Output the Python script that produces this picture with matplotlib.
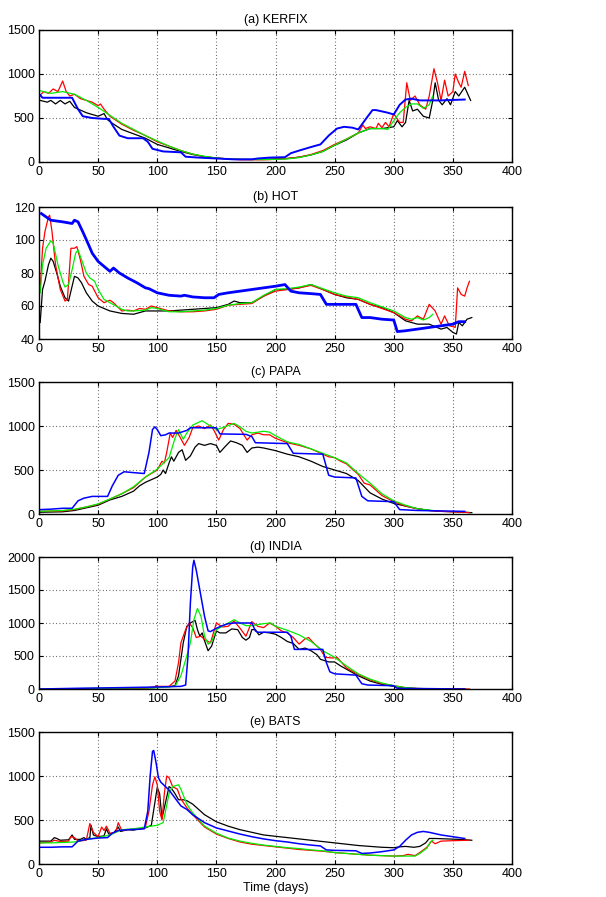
import numpy as np
import matplotlib
matplotlib.use("Agg")
import matplotlib.pyplot as plt

plt.rcParams['font.family'] = ['Liberation Sans', 'DejaVu Sans']

titles = ["(a) KERFIX", "(b) HOT", "(c) PAPA", "(d) INDIA", "(e) BATS"]
ylims = [(0, 1500), (40, 120), (0, 1500), (0, 2000), (0, 1500)]
yticks = [[0, 500, 1000, 1500], [40, 60, 80, 100, 120], [0, 500, 1000, 1500],
          [0, 500, 1000, 1500, 2000], [0, 500, 1000, 1500]]
xticks = [0, 50, 100, 150, 200, 250, 300, 350, 400]
xlabel = "Time (days)"

# ---------------- (a) KERFIX ----------------
kerfix_black_day = [1, 4, 7, 10, 14, 18, 22, 26, 30, 35, 40, 45, 50, 55, 58, 62, 70, 80, 90, 100, 110, 120, 130, 140, 150, 160, 170, 180, 190, 200, 210, 220, 230, 240, 250, 260, 270, 280, 290, 295, 300, 303, 307, 310, 313, 316, 320, 325, 330, 333, 335, 338, 341, 345, 348, 352, 355, 360, 365]
kerfix_black_val = [700, 690, 680, 700, 660, 700, 660, 690, 620, 590, 560, 540, 520, 550, 480, 440, 370, 320, 270, 200, 160, 120, 85, 60, 45, 35, 30, 30, 30, 35, 40, 55, 80, 120, 190, 250, 330, 380, 380, 390, 400, 470, 400, 450, 700, 580, 600, 520, 500, 700, 900, 700, 650, 720, 650, 800, 750, 850, 700]
kerfix_red_day = [1, 4, 8, 12, 16, 20, 23, 26, 30, 35, 40, 45, 50, 52, 55, 60, 70, 80, 90, 100, 110, 120, 130, 140, 150, 160, 170, 180, 190, 200, 210, 220, 230, 240, 250, 260, 270, 274, 276, 280, 285, 287, 290, 293, 296, 300, 305, 308, 311, 314, 318, 322, 327, 330, 334, 337, 340, 343, 346, 350, 352, 355, 357, 360, 363]
kerfix_red_val = [760, 800, 780, 830, 800, 920, 800, 750, 770, 720, 700, 680, 640, 660, 600, 520, 430, 360, 300, 230, 180, 130, 90, 60, 45, 35, 25, 25, 25, 30, 40, 55, 85, 130, 200, 260, 330, 420, 380, 400, 380, 440, 390, 450, 400, 550, 450, 450, 900, 700, 750, 650, 600, 750, 1060, 900, 700, 930, 750, 800, 1000, 900, 850, 1030, 870]
kerfix_green_day = [1, 10, 20, 30, 40, 50, 60, 70, 80, 90, 100, 110, 120, 130, 140, 150, 160, 170, 180, 190, 200, 210, 220, 230, 240, 250, 260, 270, 280, 290, 295, 300, 305, 310, 315, 320, 325, 330, 333]
kerfix_green_val = [810, 780, 800, 770, 700, 620, 530, 440, 370, 300, 240, 180, 130, 90, 65, 45, 35, 30, 28, 28, 30, 35, 50, 80, 120, 190, 260, 330, 380, 380, 370, 470, 560, 620, 660, 660, 610, 650, 750]
kerfix_blue_day = [1, 3, 10, 20, 28, 33, 37, 45, 55, 59, 63, 68, 75, 88, 92, 96, 105, 120, 124, 135, 150, 165, 180, 185, 195, 208, 213, 220, 230, 238, 245, 252, 258, 265, 270, 277, 282, 285, 295, 300, 305, 310, 315, 322, 340, 360]
kerfix_blue_val = [760, 730, 730, 730, 730, 600, 520, 500, 490, 490, 400, 300, 270, 270, 230, 150, 120, 110, 60, 50, 40, 30, 30, 40, 50, 55, 100, 130, 170, 200, 300, 380, 400, 390, 370, 500, 590, 590, 560, 540, 650, 710, 720, 700, 700, 710]

# ---------------- (b) HOT ----------------
hot_black_day = [1, 3, 5, 8, 10, 12, 15, 18, 22, 25, 28, 30, 33, 36, 40, 45, 50, 60, 70, 80, 85, 90, 100, 110, 120, 130, 140, 150, 155, 160, 165, 170, 180, 190, 200, 210, 220, 230, 240, 250, 260, 270, 280, 290, 300, 310, 320, 330, 340, 345, 350, 353, 355, 358, 362, 366]
hot_black_val = [50, 70, 75, 85, 89, 87, 80, 72, 65, 63, 72, 78, 77, 74, 68, 63, 60, 57, 55.5, 55, 56, 57, 57, 57, 57.5, 58, 58.5, 59, 60, 61, 63, 62, 62, 66, 70, 70, 71, 73, 70, 67, 65, 64, 61, 59, 56, 51, 49, 49, 46, 47, 44, 43, 50, 48, 52, 53]
hot_red_day = [1, 3, 5, 8, 9, 11, 14, 18, 22, 24, 27, 30, 32, 35, 38, 42, 45, 50, 55, 60, 63, 70, 75, 80, 85, 90, 95, 100, 110, 120, 130, 140, 150, 160, 170, 180, 190, 200, 210, 220, 230, 240, 250, 260, 270, 280, 290, 300, 310, 315, 320, 325, 330, 335, 340, 343, 347, 350, 352, 354, 357, 360, 362, 364]
hot_red_val = [70, 95, 105, 114, 115, 105, 85, 70, 63, 64, 95, 95, 96, 88, 78, 73, 72, 65, 62, 63.5, 62, 57, 57.5, 57, 58.5, 58, 60, 59, 57, 56.5, 56.5, 57, 58, 60.5, 61, 61.5, 66, 69, 70, 71, 72.5, 70, 67, 65.5, 64, 61, 58.5, 56, 52, 51, 54, 52, 61, 57, 49, 54, 48, 47.5, 47, 71, 67, 66, 71, 75]
hot_green_day = [1, 3, 6, 10, 12, 16, 20, 22, 25, 28, 31, 33, 36, 40, 43, 47, 50, 55, 60, 65, 70, 75, 80, 90, 95, 100, 110, 120, 130, 140, 150, 160, 170, 180, 190, 200, 210, 220, 230, 240, 250, 260, 270, 280, 290, 300, 310, 315, 320, 325, 330, 333]
hot_green_val = [68, 85, 95, 99.5, 98, 85, 75, 71.5, 73, 82, 92, 94, 88, 80, 77, 75, 70, 64, 62, 60, 58, 57, 57, 57.5, 59, 58.5, 56.5, 56.5, 57, 57.5, 58.5, 60.5, 61.5, 62, 66.5, 70, 70.5, 71.5, 73, 70.5, 68, 66, 65, 62, 59.5, 57, 53, 52, 53, 51.5, 53, 55]
hot_blue_day = [2, 10, 20, 28, 30, 33, 37, 42, 45, 50, 55, 60, 63, 68, 75, 83, 90, 93, 100, 110, 120, 123, 130, 140, 148, 152, 160, 170, 180, 190, 200, 208, 213, 220, 230, 238, 243, 255, 268, 273, 280, 290, 300, 303, 310, 320, 330, 340, 350, 355, 360]
hot_blue_val = [116, 112, 111, 110, 112, 111, 105, 97, 92, 87, 84, 81, 83, 80, 77, 74, 71, 70.5, 68, 66.5, 66, 66.5, 65.5, 65, 65, 67, 68, 69, 70, 71, 72, 73, 69, 68, 67.5, 67, 61, 61, 61, 53, 53, 52, 51.5, 44.5, 45, 46, 47, 48, 49, 50.5, 50.5]

# ---------------- (c) PAPA ----------------
papa_black_day = [1, 20, 30, 40, 50, 60, 70, 80, 85, 90, 100, 103, 105, 107, 110, 112, 114, 118, 121, 124, 128, 132, 135, 140, 145, 150, 153, 157, 162, 167, 172, 176, 180, 185, 190, 200, 210, 220, 230, 240, 250, 260, 270, 280, 290, 300, 310, 320, 330, 340, 350, 360, 366]
papa_black_val = [20, 25, 40, 70, 100, 160, 200, 260, 320, 360, 420, 450, 500, 460, 580, 650, 600, 700, 730, 610, 660, 760, 800, 780, 800, 780, 700, 760, 830, 810, 780, 700, 750, 760, 750, 720, 680, 650, 600, 540, 500, 460, 380, 240, 170, 120, 90, 60, 40, 30, 25, 20, 15]
papa_red_day = [1, 20, 30, 40, 50, 60, 70, 80, 90, 100, 104, 106, 108, 111, 113, 116, 119, 123, 127, 130, 135, 140, 145, 148, 152, 156, 160, 165, 170, 176, 180, 185, 190, 195, 200, 210, 220, 230, 240, 245, 250, 255, 260, 270, 275, 280, 290, 300, 310, 320, 330, 340, 350, 360, 364]
papa_red_val = [30, 35, 50, 80, 110, 170, 230, 300, 420, 500, 600, 580, 700, 920, 870, 950, 880, 780, 870, 980, 1000, 970, 1010, 950, 840, 960, 1030, 1020, 970, 840, 900, 920, 900, 900, 860, 810, 780, 740, 680, 650, 640, 600, 570, 450, 350, 330, 210, 140, 90, 60, 40, 30, 25, 20, 15]
papa_green_day = [1, 20, 30, 40, 50, 60, 70, 80, 90, 100, 110, 115, 118, 122, 125, 130, 138, 145, 150, 155, 165, 170, 175, 180, 190, 195, 200, 210, 220, 230, 240, 250, 260, 270, 280, 290, 300, 310, 320, 330, 333]
papa_green_val = [30, 40, 55, 80, 115, 170, 230, 310, 420, 510, 640, 860, 960, 850, 920, 1010, 1060, 1000, 960, 980, 1030, 990, 940, 920, 940, 930, 890, 820, 790, 740, 690, 640, 580, 460, 350, 230, 150, 100, 60, 45, 40]
papa_blue_day = [1, 10, 20, 28, 33, 38, 45, 58, 62, 67, 72, 80, 89, 93, 96, 98, 100, 103, 107, 110, 118, 125, 128, 150, 153, 175, 180, 183, 210, 215, 240, 245, 250, 268, 273, 278, 300, 305, 320, 340, 360]
papa_blue_val = [50, 55, 65, 65, 150, 180, 200, 200, 320, 440, 480, 470, 460, 700, 960, 990, 960, 890, 900, 920, 920, 950, 980, 980, 910, 905, 880, 810, 800, 690, 680, 440, 420, 410, 200, 150, 140, 50, 40, 35, 30]

# ---------------- (d) INDIA ----------------
india_black_day = [1, 50, 90, 98, 99, 100, 110, 115, 118, 120, 122, 125, 128, 130, 132, 134, 136, 138, 140, 143, 146, 150, 153, 158, 163, 168, 172, 175, 178, 180, 183, 186, 190, 195, 200, 205, 210, 215, 220, 225, 230, 235, 238, 245, 250, 255, 260, 270, 280, 290, 300, 310, 320, 360]
india_black_val = [0, 5, 15, 20, 50, 30, 35, 50, 200, 450, 700, 950, 1000, 1020, 1040, 900, 800, 850, 730, 580, 650, 880, 850, 850, 910, 900, 780, 740, 780, 900, 900, 820, 860, 850, 830, 780, 720, 690, 600, 620, 580, 520, 450, 410, 410, 350, 300, 200, 120, 70, 40, 15, 5, 0]
india_red_day = [1, 90, 100, 110, 115, 118, 120, 124, 127, 130, 133, 137, 140, 145, 150, 155, 160, 165, 170, 175, 180, 185, 190, 195, 200, 205, 210, 215, 220, 225, 228, 232, 238, 242, 248, 252, 260, 270, 280, 290, 300, 310, 320, 330, 364]
india_red_val = [0, 15, 40, 40, 120, 400, 700, 900, 1000, 930, 780, 800, 750, 700, 1000, 940, 950, 1030, 920, 800, 1020, 950, 930, 1000, 950, 880, 850, 780, 680, 760, 780, 700, 600, 480, 470, 480, 320, 220, 140, 80, 50, 20, 8, 3, 0]
india_green_day = [1, 100, 115, 120, 125, 128, 131, 134, 137, 140, 143, 146, 150, 155, 160, 165, 170, 175, 180, 190, 196, 200, 210, 220, 230, 240, 250, 260, 270, 280, 290, 300, 310, 320, 333]
india_green_val = [0, 20, 40, 200, 500, 700, 1050, 1220, 1100, 800, 680, 720, 900, 950, 1000, 1050, 1000, 960, 960, 990, 1000, 950, 890, 820, 720, 580, 480, 350, 230, 150, 90, 50, 20, 8, 3]
india_blue_day = [1, 30, 50, 100, 120, 124, 126, 128, 130, 131, 133, 136, 140, 143, 145, 150, 155, 160, 165, 180, 183, 185, 210, 213, 216, 240, 243, 246, 250, 268, 273, 278, 300, 303, 360]
india_blue_val = [0, 10, 15, 30, 40, 60, 500, 1300, 1850, 1950, 1800, 1500, 1100, 880, 870, 920, 960, 990, 1000, 1000, 880, 860, 860, 800, 600, 600, 400, 260, 230, 210, 80, 60, 50, 10, 0]

# ---------------- (e) BATS ----------------
bats_black_day = [1, 10, 13, 15, 18, 25, 28, 30, 35, 38, 40, 43, 44, 46, 50, 55, 57, 59, 63, 67, 69, 75, 80, 85, 90, 95, 98, 100, 102, 104, 107, 110, 112, 115, 118, 122, 125, 130, 135, 140, 150, 160, 170, 180, 190, 200, 210, 220, 230, 240, 250, 260, 270, 280, 290, 300, 305, 310, 317, 322, 327, 330, 335, 345, 355, 366]
bats_black_val = [260, 260, 300, 290, 270, 275, 330, 280, 280, 300, 280, 300, 440, 330, 310, 320, 400, 340, 350, 420, 370, 390, 385, 400, 410, 440, 700, 870, 800, 520, 700, 880, 860, 800, 730, 730, 720, 680, 620, 560, 480, 430, 390, 360, 330, 315, 300, 285, 270, 255, 240, 225, 210, 200, 190, 185, 195, 200, 190, 200, 240, 290, 290, 285, 280, 270]
bats_red_day = [1, 10, 13, 18, 25, 27, 30, 33, 40, 43, 46, 50, 53, 55, 57, 60, 65, 67, 70, 75, 85, 90, 93, 96, 98, 100, 102, 104, 106, 108, 110, 113, 117, 120, 125, 130, 140, 150, 160, 170, 180, 190, 200, 210, 220, 230, 240, 250, 260, 270, 280, 290, 300, 308, 312, 318, 322, 328, 332, 335, 340, 350, 364]
bats_red_val = [240, 250, 270, 255, 260, 310, 300, 260, 270, 460, 360, 310, 420, 380, 430, 350, 360, 470, 380, 390, 400, 420, 600, 900, 990, 900, 600, 500, 800, 1000, 980, 880, 850, 740, 640, 560, 420, 340, 290, 250, 225, 210, 195, 180, 165, 155, 145, 130, 120, 110, 100, 95, 90, 95, 110, 95, 130, 190, 260, 230, 260, 265, 270]
bats_green_day = [1, 10, 20, 30, 40, 50, 60, 65, 70, 80, 90, 100, 105, 110, 113, 118, 120, 125, 130, 140, 150, 160, 170, 180, 190, 200, 210, 220, 230, 240, 250, 260, 270, 280, 290, 300, 310, 318, 322, 328, 331, 333]
bats_green_val = [240, 240, 245, 250, 280, 300, 330, 360, 390, 400, 420, 440, 470, 800, 880, 900, 850, 680, 580, 430, 350, 295, 260, 235, 215, 200, 185, 175, 160, 150, 130, 120, 110, 100, 95, 90, 90, 90, 120, 180, 250, 270]
bats_blue_day = [1, 10, 20, 28, 33, 40, 50, 58, 62, 67, 75, 85, 89, 92, 94, 96, 97, 99, 101, 103, 110, 115, 120, 125, 130, 140, 150, 160, 170, 180, 190, 200, 210, 220, 230, 238, 243, 250, 268, 273, 280, 290, 300, 305, 310, 315, 320, 325, 330, 340, 350, 360]
bats_blue_val = [190, 190, 195, 195, 260, 280, 295, 300, 350, 380, 390, 395, 400, 600, 1000, 1280, 1290, 1150, 980, 930, 840, 750, 660, 620, 560, 470, 410, 375, 340, 310, 285, 265, 250, 230, 215, 205, 160, 155, 150, 120, 125, 140, 160, 200, 270, 330, 360, 370, 360, 330, 310, 290]

panels = [
    (kerfix_black_day, kerfix_black_val, kerfix_red_day, kerfix_red_val,
     kerfix_green_day, kerfix_green_val, kerfix_blue_day, kerfix_blue_val),
    (hot_black_day, hot_black_val, hot_red_day, hot_red_val,
     hot_green_day, hot_green_val, hot_blue_day, hot_blue_val),
    (papa_black_day, papa_black_val, papa_red_day, papa_red_val,
     papa_green_day, papa_green_val, papa_blue_day, papa_blue_val),
    (india_black_day, india_black_val, india_red_day, india_red_val,
     india_green_day, india_green_val, india_blue_day, india_blue_val),
    (bats_black_day, bats_black_val, bats_red_day, bats_red_val,
     bats_green_day, bats_green_val, bats_blue_day, bats_blue_val),
]
blue_widths = [1.4, 2.0, 1.1, 1.1, 1.1]

fig = plt.figure(figsize=(6.06, 8.97), dpi=100)
W, H = 606, 897
left_px, right_px = 39, 512
tops = [30, 207, 382, 557, 732]
height_px = 132

for i, p in enumerate(panels):
    top = tops[i]
    ax = fig.add_axes([left_px / W, 1 - (top + height_px) / H,
                       (right_px - left_px) / W, height_px / H])
    bd, bv, rd, rv, gd, gv, ud, uv = p
    ax.plot(bd, bv, color='black', lw=0.9)
    ax.plot(rd, rv, color='red', lw=0.9)
    ax.plot(gd, gv, color='#00ee00', lw=0.9)
    ax.plot(ud, uv, color='blue', lw=blue_widths[i])
    ax.set_xlim(0, 400)
    ax.set_ylim(*ylims[i])
    ax.set_xticks(xticks)
    ax.set_yticks(yticks[i])
    ax.grid(True, linestyle=(0, (0.8, 2.2)), color='#555555', linewidth=0.8)
    ax.tick_params(direction='in', length=3, width=0.8, labelsize=9,
                   top=True, right=True, pad=3)
    for s in ax.spines.values():
        s.set_linewidth(1.0)
    ax.set_title(titles[i], fontsize=9, pad=5)
    if i == 4:
        ax.set_xlabel(xlabel, fontsize=9, labelpad=1)

fig.savefig("out.png", dpi=100)
